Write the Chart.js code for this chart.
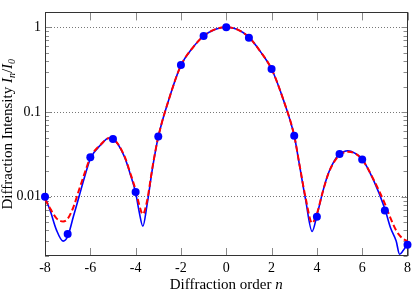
<!DOCTYPE html>
<html>
<head>
<meta charset="utf-8">
<script src="https://cdn.jsdelivr.net/npm/chart.js@4.4.1/dist/chart.umd.min.js"></script>
<style>
  html, body { margin: 0; padding: 0; background: #fff; }
  #wrap { width: 415px; height: 292px; }
</style>
</head>
<body>
<div id="wrap"><canvas id="chart" width="415" height="292"></canvas></div>
<script>
// curve sample positions (diffraction order n)
const orderN = [-8, -7.75, -7.5, -7.2, -7, -6.75, -6.5, -6.25, -6, -5.5, -5.2, -5, -4.5, -4.25, -4,
  -3.85, -3.68, -3.5, -3.25, -3, -2.5, -2, -1.5, -1, -0.5, 0, 0.5, 1, 1.5, 2, 2.5, 3, 3.25, 3.5,
  3.79, 4, 4.25, 4.5, 4.75, 5, 5.36, 5.5, 6, 6.5, 7, 7.25, 7.5, 7.65, 7.8, 8];

// blue solid curve
const blueI = [0.0100, 0.0066, 0.0041, 0.0030, 0.0034, 0.0058, 0.0100, 0.0172, 0.0280, 0.0420, 0.0490, 0.0480, 0.0300, 0.0190, 0.0112,
  0.0068, 0.0045, 0.0079, 0.0222, 0.0510, 0.150, 0.355, 0.565, 0.790, 0.945, 1.000, 0.940, 0.765, 0.520, 0.322, 0.145, 0.0525, 0.0222, 0.0093,
  0.0039, 0.0060, 0.0112, 0.0187, 0.0260, 0.0318, 0.0350, 0.0345, 0.0278, 0.0157, 0.0072, 0.0043, 0.0030, 0.0021, 0.0023, 0.0028];

// red dashed curve
const redI = [0.0094, 0.0071, 0.0056, 0.0051, 0.0055, 0.0075, 0.0120, 0.0190, 0.0290, 0.0425, 0.0490, 0.0480, 0.0305, 0.0195, 0.0120,
  0.0082, 0.0062, 0.0088, 0.0228, 0.0510, 0.150, 0.355, 0.565, 0.790, 0.945, 1.000, 0.940, 0.765, 0.520, 0.322, 0.145, 0.0525, 0.0225, 0.0098,
  0.0049, 0.0063, 0.0112, 0.0185, 0.0255, 0.0310, 0.0340, 0.0338, 0.0275, 0.0160, 0.0083, 0.0056, 0.0040, 0.0035, 0.0032, 0.0030];

// measured orders (dots)
const dotN = [-8, -7, -6, -5, -4, -3, -2, -1, 0, 1, 2, 3, 4, 5, 6, 7, 8];
const dotI = [0.0100, 0.00363, 0.0292, 0.0480, 0.0114, 0.0513, 0.358, 0.790, 1.0, 0.755, 0.322, 0.0525, 0.0058, 0.0319, 0.0275, 0.0069, 0.00272];

const xTickVals = [-8, -6, -4, -2, 0, 2, 4, 6, 8];
const yTickVals = [0.01, 0.1, 1];
const yTickText = ['0.01', '0.1', '1'];

const FONT = 'Liberation Serif';

const pts = (xs, ys) => xs.map((x, i) => ({ x: x, y: ys[i] }));

// frame + inward tick marks
const framePlugin = {
    id: 'frame',
    beforeDatasetsDraw(chart) {
        const { ctx, chartArea: a, scales: { x, y } } = chart;
        ctx.save();
        ctx.strokeStyle = '#8a8a8a';
        ctx.lineWidth = 1;
        ctx.beginPath();
        xTickVals.forEach(v => {
            const px = Math.round(x.getPixelForValue(v)) + 0.5;
            ctx.moveTo(px, a.bottom); ctx.lineTo(px, a.bottom - 8);
            ctx.moveTo(px, a.top); ctx.lineTo(px, a.top + 8);
        });
        [0.001, 0.01, 0.1, 1].forEach(d => {
            for (let m = 1; m <= 9; m++) {
                const v = m * d;
                if (v < y.min || v > y.max) continue;
                const len = m === 1 ? 6 : 4;
                const py = Math.round(y.getPixelForValue(v)) + 0.5;
                ctx.moveTo(a.left, py); ctx.lineTo(a.left + len, py);
                ctx.moveTo(a.right, py); ctx.lineTo(a.right - len, py);
            }
        });
        ctx.stroke();
        ctx.strokeStyle = '#333';
        ctx.strokeRect(Math.round(a.left) + 0.5, Math.round(a.top) + 0.5,
            Math.round(a.right - a.left) - 1, Math.round(a.bottom - a.top) - 1);
        ctx.restore();
    },
    afterDraw(chart) {
        const { ctx, chartArea: a } = chart;
        ctx.save();
        ctx.fillStyle = '#000';
        ctx.textBaseline = 'alphabetic';

        // x title
        const reg = '15px ' + FONT, ita = 'italic 15px ' + FONT;
        ctx.font = reg;
        const t1 = 'Diffraction order ';
        const w1 = ctx.measureText(t1).width;
        ctx.font = ita;
        const w2 = ctx.measureText('n').width;
        let sx = (a.left + a.right) / 2 - (w1 + w2) / 2;
        ctx.font = reg; ctx.fillText(t1, sx, 289);
        ctx.font = ita; ctx.fillText('n', sx + w1, 289);

        // y title, rotated
        const sub = 'italic 10px ' + FONT;
        const parts = [
            { t: 'Diffraction Intensity ', f: reg, dy: 0 },
            { t: 'I', f: ita, dy: 0 },
            { t: 'n', f: sub, dy: 3 },
            { t: '/', f: reg, dy: 0 },
            { t: 'I', f: ita, dy: 0 },
            { t: '0', f: sub, dy: 3 }
        ];
        let total = 0;
        parts.forEach(p => { ctx.font = p.f; p.w = ctx.measureText(p.t).width; total += p.w; });
        ctx.translate(12, (a.top + a.bottom) / 2);
        ctx.rotate(-Math.PI / 2);
        let cx = -total / 2;
        parts.forEach(p => { ctx.font = p.f; ctx.fillText(p.t, cx, p.dy); cx += p.w; });
        ctx.restore();
    }
};

new Chart(document.getElementById('chart'), {
    type: 'scatter',
    data: {
        datasets: [
            {
                label: 'measured',
                data: pts(dotN, dotI),
                showLine: false,
                pointRadius: 4,
                pointBorderWidth: 0,
                pointBackgroundColor: '#0000ff',
                pointBorderColor: '#0000ff',
                clip: false
            },
            {
                label: 'model 2',
                data: pts(orderN, redI),
                showLine: true,
                borderColor: '#ff0000',
                borderWidth: 2,
                borderDash: [6, 3],
                pointRadius: 0,
                cubicInterpolationMode: 'monotone',
                clip: false
            },
            {
                label: 'model 1',
                data: pts(orderN, blueI),
                showLine: true,
                borderColor: '#0000ff',
                borderWidth: 1.6,
                pointRadius: 0,
                cubicInterpolationMode: 'monotone',
                clip: false
            }
        ]
    },
    options: {
        responsive: false,
        animation: false,
        layout: { padding: { top: 1, right: 4.5, left: 0, bottom: 0 } },
        plugins: { legend: { display: false }, tooltip: { enabled: false } },
        scales: {
            x: {
                type: 'linear',
                min: -8,
                max: 8,
                afterBuildTicks: s => { s.ticks = xTickVals.map(v => ({ value: v })); },
                afterFit: s => { s.height = 36; },
                grid: { display: false, drawTicks: false },
                border: { display: false },
                ticks: {
                    autoSkip: false,
                    maxRotation: 0,
                    padding: 4,
                    color: '#000',
                    font: { family: FONT, size: 14 }
                }
            },
            y: {
                type: 'logarithmic',
                min: 0.002,
                max: 1.5,
                afterBuildTicks: s => { s.ticks = yTickVals.map(v => ({ value: v })); },
                afterFit: s => { s.width = 45; },
                grid: { color: '#777', lineWidth: 1, drawTicks: false },
                border: { display: false, dash: [1, 2] },
                ticks: {
                    autoSkip: false,
                    padding: 4,
                    color: '#000',
                    font: { family: FONT, size: 14 },
                    callback: v => {
                        const i = yTickVals.indexOf(v);
                        return i >= 0 ? yTickText[i] : '';
                    }
                }
            }
        }
    },
    plugins: [framePlugin]
});
</script>
</body>
</html>
